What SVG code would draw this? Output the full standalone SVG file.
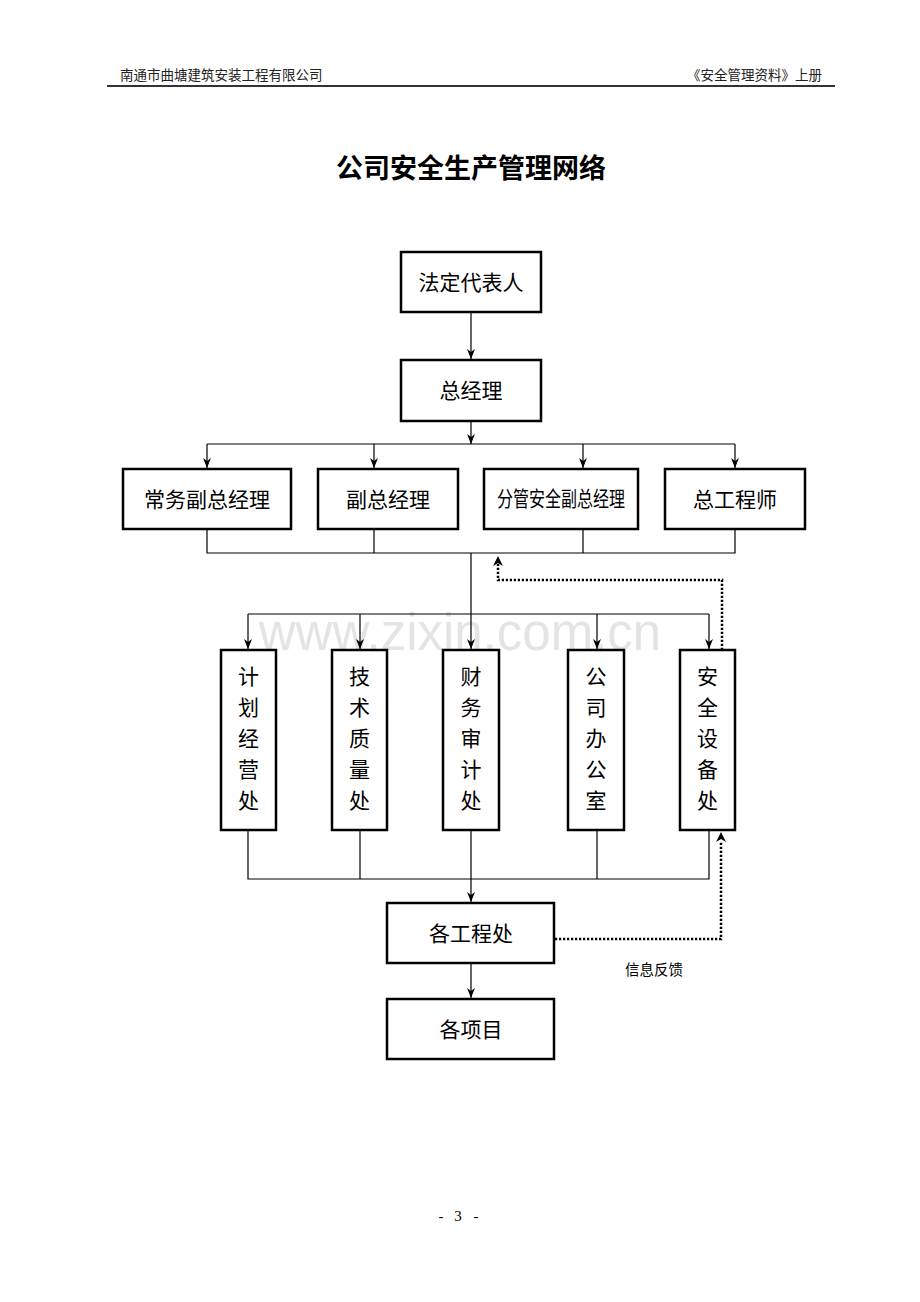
<svg xmlns="http://www.w3.org/2000/svg" width="920" height="1302" viewBox="0 0 920 1302">
<defs>
<style>
.box{fill:#fff;stroke:#000;stroke-width:2.5}
.t{font-family:"Liberation Sans","Noto Sans CJK SC",sans-serif;font-size:21px;fill:#000;text-anchor:middle}
.ln{fill:none;stroke:#000;stroke-width:1.2}
.dot{fill:none;stroke:#000;stroke-width:2.5;stroke-dasharray:2.2 1.8}
.hd{font-family:"Liberation Serif","Noto Sans CJK SC",serif;font-size:13.5px;fill:#222}
.pg{font-family:"Liberation Serif",serif;font-size:15px;fill:#000;text-anchor:middle}
</style>
<marker id="ar" viewBox="0 0 10 10" refX="10" refY="5" markerWidth="10" markerHeight="10" markerUnits="userSpaceOnUse" orient="auto">
<path d="M0,1 L10,5 L0,9 L3,5 Z" fill="#000"/>
</marker>
</defs>
<rect width="920" height="1302" fill="#fff"/>
<g id="header">
<text class="hd" x="120" y="80">南通市曲塘建筑安装工程有限公司</text>
<text class="hd" x="822" y="80" text-anchor="end">《安全管理资料》上册</text>
<line x1="107" y1="86" x2="835" y2="86" stroke="#333" stroke-width="2"/>
</g>
<text x="471" y="178" font-family="'Liberation Sans','Noto Sans CJK SC',sans-serif" font-size="27" font-weight="bold" text-anchor="middle">公司安全生产管理网络</text>
<text x="460" y="650" font-family="'Liberation Sans',Arial,sans-serif" font-size="51" fill="#e4e4e4" text-anchor="middle">www.zixin.com.cn</text>
<g id="connectors">
<line class="ln" x1="471" y1="312" x2="471" y2="359" marker-end="url(#ar)"/>
<line class="ln" x1="471" y1="421" x2="471" y2="444" marker-end="url(#ar)"/>
<line class="ln" x1="207" y1="444" x2="735" y2="444"/>
<line class="ln" x1="207" y1="444" x2="207" y2="468" marker-end="url(#ar)"/>
<line class="ln" x1="374" y1="444" x2="374" y2="468" marker-end="url(#ar)"/>
<line class="ln" x1="583" y1="444" x2="583" y2="468" marker-end="url(#ar)"/>
<line class="ln" x1="735" y1="444" x2="735" y2="468" marker-end="url(#ar)"/>
<polyline class="ln" points="207,529 207,553 735,553 735,529"/>
<line class="ln" x1="374" y1="529" x2="374" y2="553"/>
<line class="ln" x1="583" y1="529" x2="583" y2="553"/>
<line class="ln" x1="471" y1="553" x2="471" y2="649" marker-end="url(#ar)"/>
<line class="ln" x1="248" y1="614" x2="709" y2="614"/>
<line class="ln" x1="248" y1="614" x2="248" y2="649" marker-end="url(#ar)"/>
<line class="ln" x1="360" y1="614" x2="360" y2="649" marker-end="url(#ar)"/>
<line class="ln" x1="597" y1="614" x2="597" y2="649" marker-end="url(#ar)"/>
<line class="ln" x1="709" y1="614" x2="709" y2="649" marker-end="url(#ar)"/>
<polyline class="ln" points="248,830 248,879 709,879 709,830"/>
<line class="ln" x1="360" y1="830" x2="360" y2="879"/>
<line class="ln" x1="597" y1="830" x2="597" y2="879"/>
<line class="ln" x1="471" y1="830" x2="471" y2="902" marker-end="url(#ar)"/>
<line class="ln" x1="471" y1="963" x2="471" y2="998" marker-end="url(#ar)"/>
<polyline class="dot" points="722,650 722,580 498,580 498,562"/>
<path d="M493,566 L498,556 L503,566 L498,563 Z" fill="#000"/>
<polyline class="dot" points="555,939 721,939 721,842"/>
<path d="M716,842 L721,832 L726,842 L721,839 Z" fill="#000"/>
<text x="654" y="975" font-family="'Liberation Sans','Noto Sans CJK SC',sans-serif" font-size="14.5" text-anchor="middle">信息反馈</text>
</g>
<g id="n1"><rect class="box" x="401" y="252" width="140" height="60"/><text class="t" x="471" y="290">法定代表人</text></g>
<g id="n2"><rect class="box" x="401" y="360" width="140" height="61"/><text class="t" x="471" y="398">总经理</text></g>
<g id="n3"><rect class="box" x="123" y="469" width="168" height="60"/><text class="t" x="207" y="507">常务副总经理</text></g>
<g id="n4"><rect class="box" x="318" y="469" width="140" height="60"/><text class="t" x="388" y="507">副总经理</text></g>
<g id="n5"><rect class="box" x="484" y="469" width="154" height="60"/><text class="t" x="561" y="506" font-size="17" textLength="128" lengthAdjust="spacingAndGlyphs">分管安全副总经理</text></g>
<g id="n6"><rect class="box" x="665" y="469" width="140" height="60"/><text class="t" x="735" y="507">总工程师</text></g>
<g id="n7"><rect class="box" x="221" y="650" width="55" height="180"/>
<text class="t"><tspan x="248.5" y="684">计</tspan><tspan x="248.5" y="715">划</tspan><tspan x="248.5" y="746">经</tspan><tspan x="248.5" y="777">营</tspan><tspan x="248.5" y="808">处</tspan></text></g>
<g id="n8"><rect class="box" x="332" y="650" width="55" height="180"/>
<text class="t"><tspan x="359.5" y="684">技</tspan><tspan x="359.5" y="715">术</tspan><tspan x="359.5" y="746">质</tspan><tspan x="359.5" y="777">量</tspan><tspan x="359.5" y="808">处</tspan></text></g>
<g id="n9"><rect class="box" x="443" y="650" width="56" height="180"/>
<text class="t"><tspan x="471" y="684">财</tspan><tspan x="471" y="715">务</tspan><tspan x="471" y="746">审</tspan><tspan x="471" y="777">计</tspan><tspan x="471" y="808">处</tspan></text></g>
<g id="n10"><rect class="box" x="568" y="650" width="56" height="180"/>
<text class="t"><tspan x="596" y="684">公</tspan><tspan x="596" y="715">司</tspan><tspan x="596" y="746">办</tspan><tspan x="596" y="777">公</tspan><tspan x="596" y="808">室</tspan></text></g>
<g id="n11"><rect class="box" x="680" y="650" width="55" height="180"/>
<text class="t"><tspan x="707.5" y="684">安</tspan><tspan x="707.5" y="715">全</tspan><tspan x="707.5" y="746">设</tspan><tspan x="707.5" y="777">备</tspan><tspan x="707.5" y="808">处</tspan></text></g>
<g id="n12"><rect class="box" x="387" y="903" width="167" height="60"/><text class="t" x="471" y="941">各工程处</text></g>
<g id="n13"><rect class="box" x="387" y="999" width="167" height="60"/><text class="t" x="471" y="1037">各项目</text></g>
<g id="page">
<text class="pg" x="441" y="1221">-</text>
<text class="pg" x="458" y="1221">3</text>
<text class="pg" x="476" y="1221">-</text>
</g>
</svg>
